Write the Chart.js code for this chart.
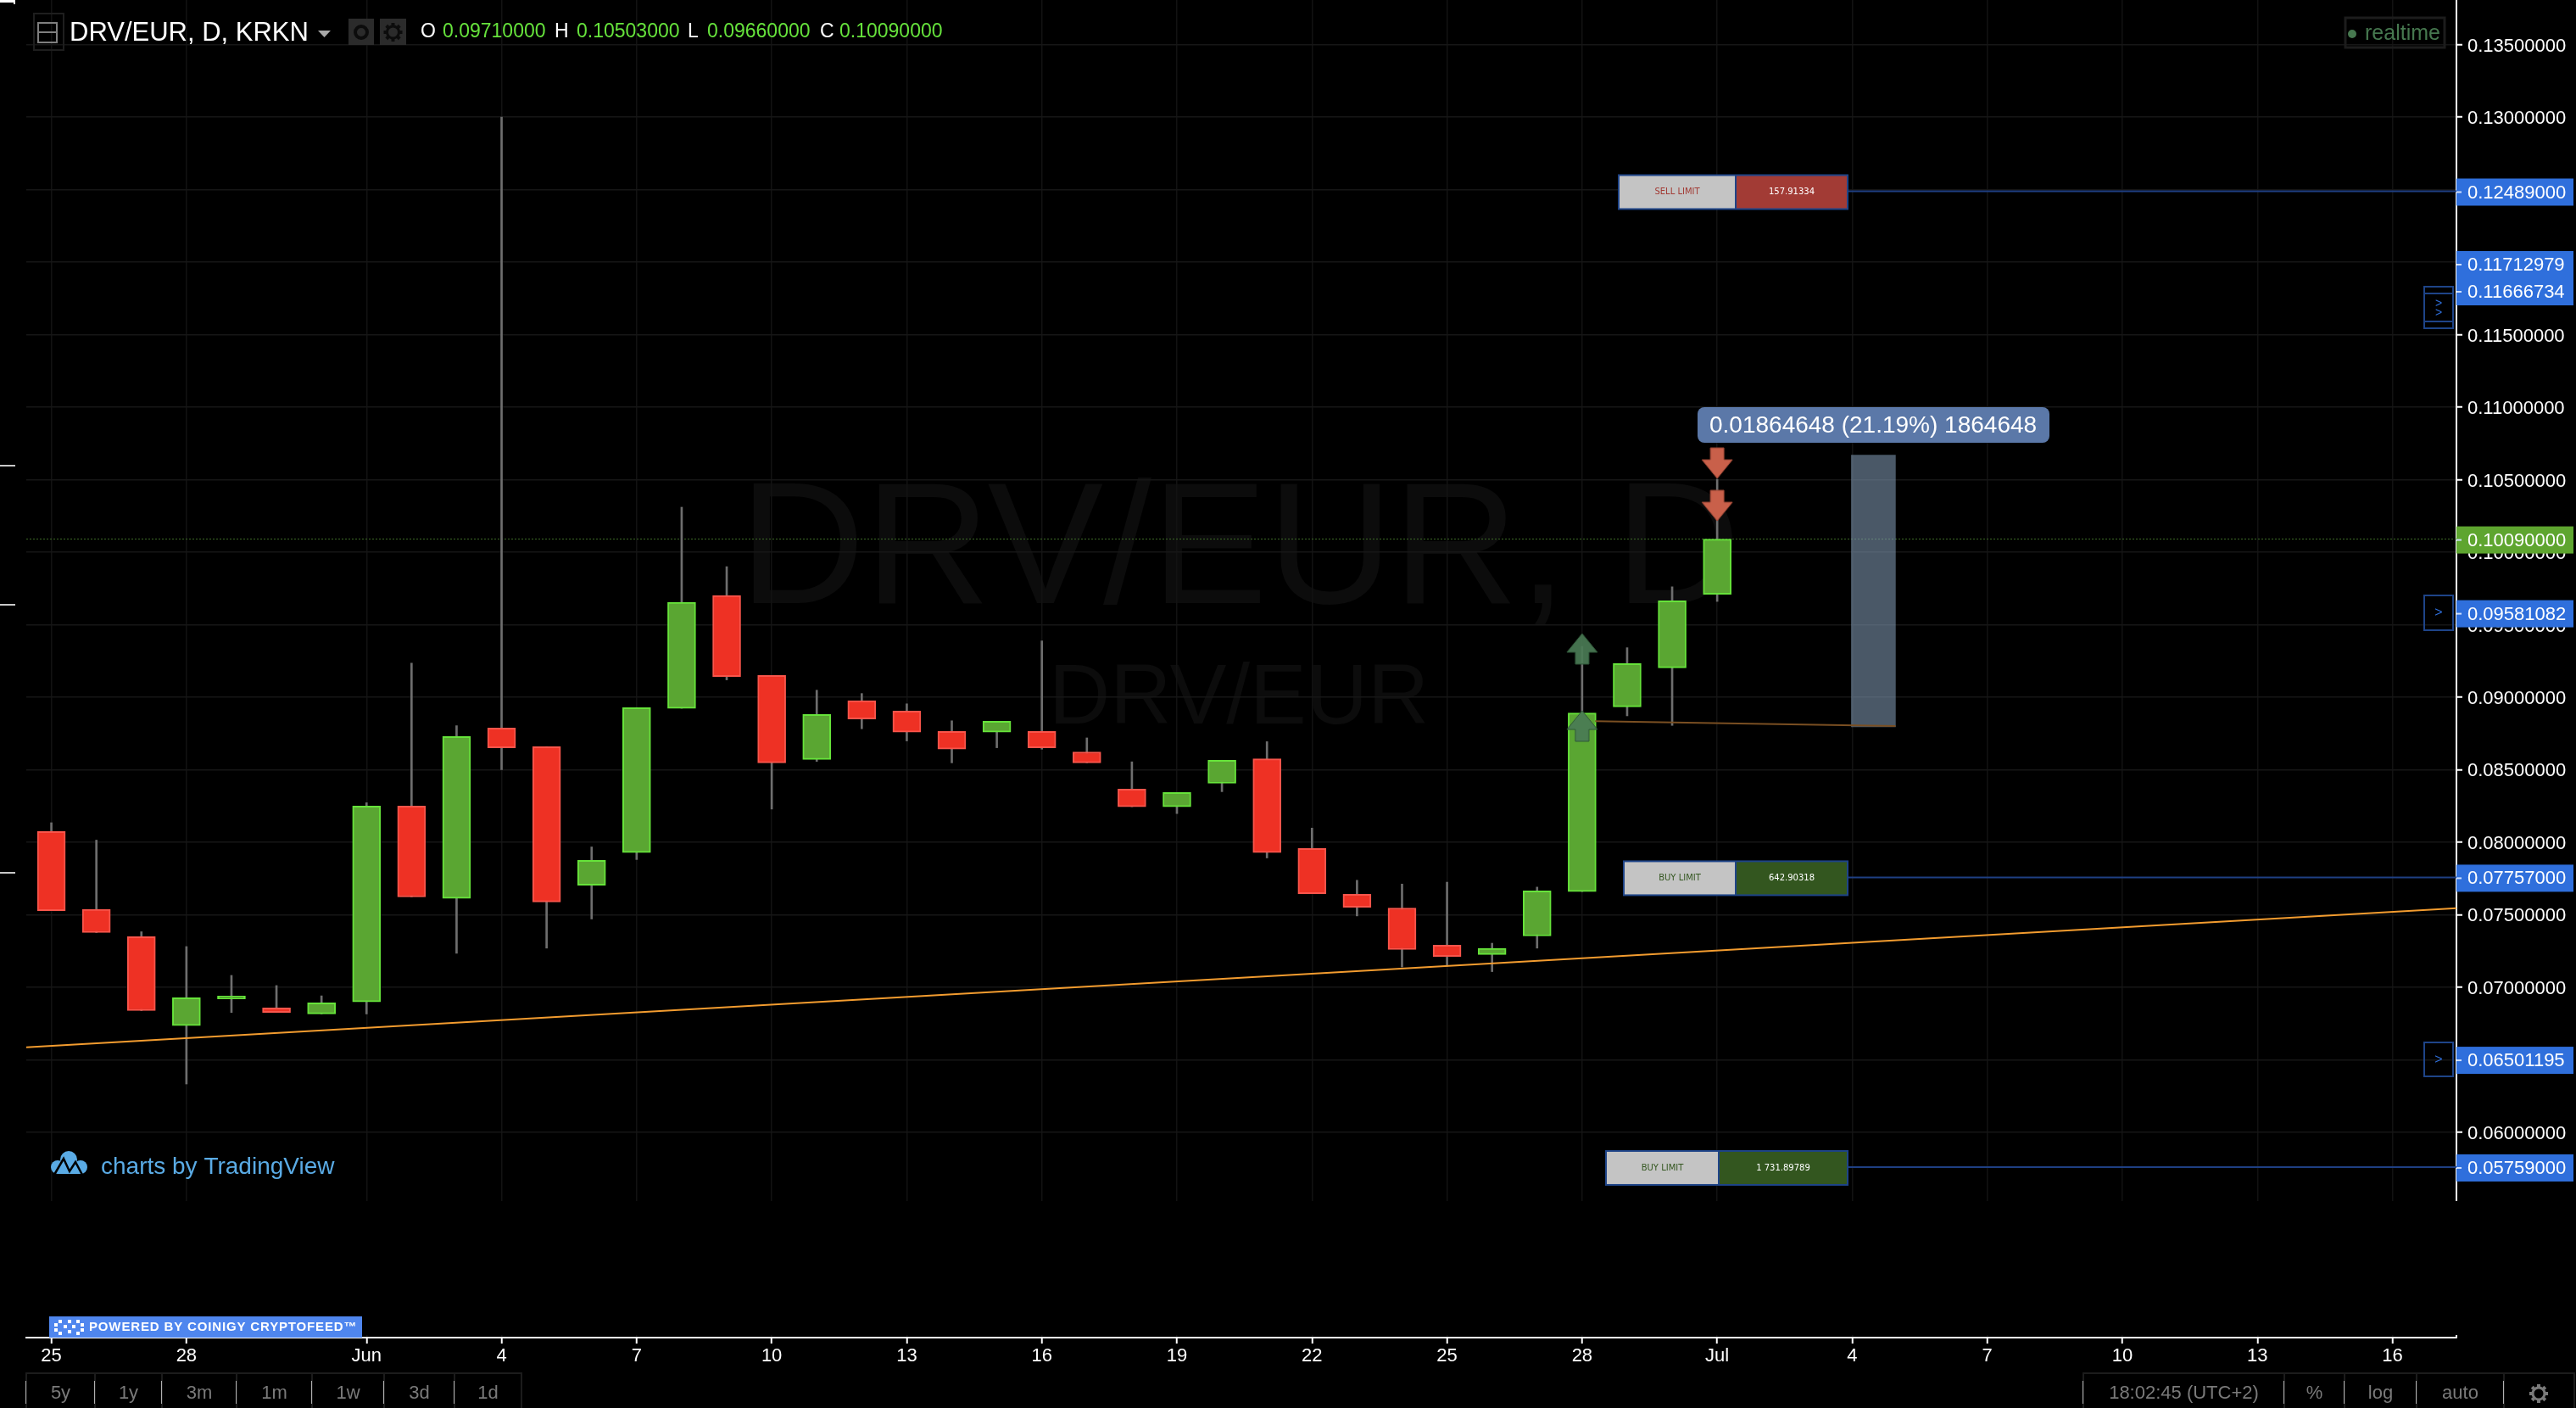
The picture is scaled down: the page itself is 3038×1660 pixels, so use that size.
<!DOCTYPE html>
<html>
<head>
<meta charset="utf-8">
<title>DRV/EUR, D, KRKN</title>
<style>
  html, body { margin: 0; padding: 0; background: #000; }
  canvas { display: block; }
</style>
<script src="https://cdn.jsdelivr.net/npm/chart.js@4"></script>
</head>
<body>
<canvas id="priceChart" width="3038" height="1660"></canvas>
<script>
// daily candles, May 25 to Jul 1
const opens = [0.08074, 0.07536, 0.07348, 0.06734, 0.06919, 0.06857, 0.06815, 0.06898, 0.08249, 0.07612,
  0.08787, 0.08659, 0.07703, 0.07928, 0.08923, 0.09701, 0.0915, 0.0857, 0.08975, 0.08904,
  0.08763, 0.08758, 0.08763, 0.08622, 0.08366, 0.08244, 0.08406, 0.08575, 0.07956, 0.0764,
  0.07546, 0.0729, 0.07225, 0.07353, 0.07659, 0.08933, 0.09202, 0.0971];
const highs = [0.08134, 0.08014, 0.07382, 0.0728, 0.07081, 0.07011, 0.0694, 0.08272, 0.09234, 0.08803,
  0.13, 0.08659, 0.07967, 0.08928, 0.1031, 0.099, 0.0915, 0.09048, 0.09025, 0.08954,
  0.08837, 0.08834, 0.09388, 0.08719, 0.08554, 0.08343, 0.08565, 0.08693, 0.08097, 0.07737,
  0.07711, 0.07724, 0.07303, 0.0769, 0.0935, 0.09341, 0.09761, 0.10503];
const lows = [0.07528, 0.07376, 0.06838, 0.06332, 0.06825, 0.06825, 0.06815, 0.06815, 0.07622, 0.07233,
  0.085, 0.07269, 0.0747, 0.0788, 0.08923, 0.09119, 0.08228, 0.08557, 0.08782, 0.08698,
  0.08547, 0.08651, 0.08641, 0.08547, 0.08244, 0.08197, 0.08348, 0.07891, 0.07645, 0.07491,
  0.07139, 0.07144, 0.07107, 0.07269, 0.07659, 0.08871, 0.08805, 0.0966];
const closes = [0.07528, 0.07376, 0.06838, 0.06927, 0.06938, 0.06825, 0.06891, 0.08249, 0.07622, 0.08729,
  0.08651, 0.07588, 0.07875, 0.08928, 0.09654, 0.09142, 0.08547, 0.08881, 0.0885, 0.08758,
  0.08641, 0.08834, 0.08651, 0.08547, 0.08244, 0.08343, 0.08565, 0.07928, 0.07645, 0.07551,
  0.07259, 0.07212, 0.07267, 0.07664, 0.08891, 0.09231, 0.09665, 0.1009];

// axes
const dayTicks = [0, 3, 7, 10, 13, 16, 19, 22, 25, 28, 31, 34, 37, 40, 43, 46, 49, 52];
const dayLabels = ['25', '28', 'Jun', '4', '7', '10', '13', '16', '19', '22', '25', '28', 'Jul', '4', '7', '10', '13', '16'];
const priceTicks = [0.06, 0.065, 0.07, 0.075, 0.08, 0.085, 0.09, 0.095, 0.1, 0.105, 0.11, 0.115, 0.12, 0.125, 0.13, 0.135];
const dayMin = -0.557;
const dayMax = 53.42;
const priceMin = 0.04583;
const priceMax = 0.13808;

// drawings on top of the candles
const trendDays = [dayMin, dayMax];
const trendPrices = [0.06585, 0.07544];
const orderPrices = [0.12489, 0.07757, 0.05759];
const orderStartDay = 39.9;
const orderSides = ['SELL LIMIT', 'BUY LIMIT', 'BUY LIMIT'];
const orderAmounts = ['157.91334', '642.90318', '1 731.89789'];
const lastPrice = 0.1009;
const measureDays = [34.29, 40.96];
const measurePrices = [0.08834, 0.088];
const measureBoxDay = 40.47;
const measureBox = [0.08795, 0.10669];
const sellArrowDays = [37, 37];
const sellArrowPrices = [0.10614, 0.10321];
const buyArrowDays = [34, 34];
const buyArrowPrices = [0.09333, 0.08801];
const tagPrices = [0.12489, 0.11712979, 0.11666734, 0.1009, 0.09581082, 0.07757, 0.06501195, 0.05759];
const rangeButtons = ['5y', '1y', '3m', '1m', '1w', '3d', '1d'];

const FONT = '"Liberation Sans", Arial, sans-serif';

function makeArrow(color, edge, pointsUp) {
    const c = document.createElement('canvas');
    c.width = 38;
    c.height = 38;
    const g = c.getContext('2d');
    if (pointsUp) {
        g.translate(0, 38);
        g.scale(1, -1);
    }
    g.beginPath();
    g.moveTo(11, 1);
    g.lineTo(27, 1);
    g.lineTo(27, 15);
    g.lineTo(37, 15);
    g.lineTo(19, 37);
    g.lineTo(1, 15);
    g.lineTo(11, 15);
    g.closePath();
    g.fillStyle = color;
    g.fill();
    g.strokeStyle = edge;
    g.lineWidth = 1;
    g.stroke();
    return c;
}

function text(ctx, str, x, y, font, color, align) {
    ctx.font = font;
    ctx.fillStyle = color;
    ctx.textAlign = align || 'left';
    ctx.textBaseline = 'middle';
    ctx.fillText(str, x, y);
}

function drawWatermark(ctx) {
    ctx.save();
    ctx.font = '205px ' + FONT;
    ctx.fillStyle = '#0c0c0c';
    ctx.textAlign = 'left';
    ctx.textBaseline = 'alphabetic';
    ctx.fillText('DRV/EUR, D', 872, 711);
    ctx.font = '100px ' + FONT;
    ctx.fillText('DRV/EUR', 1237, 853);
    ctx.restore();
}

function drawOrderBox(ctx, y, left, side, amount, fill, sideColor) {
    const mid = 2047 - (left < 1900 ? 20 : 0);
    const right = 2179;
    const top = y - 19;
    ctx.fillStyle = '#c4c4c4';
    ctx.fillRect(left, top, mid - left, 40);
    ctx.fillStyle = fill;
    ctx.fillRect(mid, top, right - mid, 40);
    ctx.strokeStyle = '#1e4488';
    ctx.lineWidth = 2;
    ctx.strokeRect(left, top, right - left, 40);
    ctx.beginPath();
    ctx.moveTo(mid, top);
    ctx.lineTo(mid, top + 40);
    ctx.stroke();
    text(ctx, side, (left + mid) / 2, y + 1, '10px "DejaVu Sans"', sideColor, 'center');
    text(ctx, amount, (mid + right) / 2, y + 1, '10px "DejaVu Sans"', '#ffffff', 'center');
}

function drawTag(ctx, y, str, color) {
    ctx.fillStyle = color;
    ctx.fillRect(2897, y - 16, 138, 32);
    ctx.fillStyle = '#cfe0ff';
    ctx.fillRect(2897, y - 1, 6, 2);
    text(ctx, str, 2910, y + 1, '22px ' + FONT, '#ffffff');
}

function drawSideBox(ctx, top, height) {
    ctx.strokeStyle = '#1e4488';
    ctx.lineWidth = 2;
    ctx.strokeRect(2859, top, 34, height);
}

function drawHeader(ctx) {
    ctx.fillStyle = '#ffffff';
    ctx.fillRect(0, 0, 18, 3);
    ctx.fillRect(16, 0, 2, 5);
    ctx.fillStyle = '#c8c8c8';
    ctx.fillRect(0, 548, 18, 2);
    ctx.fillRect(0, 712, 18, 2);
    ctx.fillRect(0, 1028, 18, 2);

    ctx.strokeStyle = '#1e1e1e';
    ctx.lineWidth = 2;
    ctx.strokeRect(40, 16, 35, 43);
    ctx.strokeStyle = '#7f7f7f';
    ctx.strokeRect(45, 27, 22, 23);
    ctx.beginPath();
    ctx.moveTo(45, 38);
    ctx.lineTo(67, 38);
    ctx.stroke();

    text(ctx, 'DRV/EUR, D, KRKN', 82, 39, '31px ' + FONT, '#ffffff');
    ctx.fillStyle = '#a8a8a8';
    ctx.beginPath();
    ctx.moveTo(375, 36);
    ctx.lineTo(390, 36);
    ctx.lineTo(382.5, 44);
    ctx.closePath();
    ctx.fill();

    ctx.fillStyle = '#2b2b2b';
    ctx.fillRect(411, 22, 30, 31);
    ctx.fillRect(448, 22, 31, 31);
    ctx.strokeStyle = '#0c0c0c';
    ctx.lineWidth = 4;
    ctx.beginPath();
    ctx.arc(426, 38, 7, 0, Math.PI * 2);
    ctx.stroke();
    drawGear(ctx, 463.5, 38, '#0c0c0c');

    const ohlc = [['O', 496, '0.09710000', 522], ['H', 654, '0.10503000', 680], ['L', 811, '0.09660000', 834], ['C', 967, '0.10090000', 990]];
    ohlc.forEach(function(item) {
        text(ctx, item[0], item[1], 38, '23px ' + FONT, '#ffffff');
        text(ctx, item[2], item[3], 38, '23px ' + FONT, '#66e33c');
    });

    ctx.strokeStyle = '#1c1c1c';
    ctx.lineWidth = 3;
    ctx.strokeRect(2766, 21, 117, 35);
    ctx.fillStyle = '#46784f';
    ctx.beginPath();
    ctx.arc(2774, 40, 5, 0, Math.PI * 2);
    ctx.fill();
    text(ctx, 'realtime', 2789, 40, '25px ' + FONT, '#46784f');
}

function drawGear(ctx, x, y, color) {
    ctx.strokeStyle = color;
    ctx.lineWidth = 3;
    ctx.beginPath();
    ctx.arc(x, y, 7, 0, Math.PI * 2);
    ctx.stroke();
    ctx.lineWidth = 4;
    for (let i = 0; i < 8; i++) {
        const a = i * Math.PI / 4;
        ctx.beginPath();
        ctx.moveTo(x + Math.cos(a) * 7, y + Math.sin(a) * 7);
        ctx.lineTo(x + Math.cos(a) * 11, y + Math.sin(a) * 11);
        ctx.stroke();
    }
}

function drawLogo(ctx) {
    ctx.fillStyle = '#5aabe5';
    [[81, 1367, 10], [68, 1376, 8], [95, 1376, 8]].forEach(function(c) {
        ctx.beginPath();
        ctx.arc(c[0], c[1], c[2], 0, Math.PI * 2);
        ctx.fill();
    });
    ctx.fillRect(68, 1370, 27, 14);
    ctx.strokeStyle = '#000000';
    ctx.lineWidth = 2.5;
    ctx.beginPath();
    ctx.moveTo(64, 1385);
    ctx.lineTo(75, 1366);
    ctx.lineTo(82, 1381);
    ctx.lineTo(89, 1370);
    ctx.lineTo(97, 1385);
    ctx.stroke();
    text(ctx, 'charts by TradingView', 119, 1376, '28px ' + FONT, '#5aabe5');

    ctx.fillStyle = '#4f86ee';
    ctx.fillRect(58, 1552, 369, 25);
    ctx.fillStyle = '#ffffff';
    const dots = [[64, 1560], [64, 1566], [69, 1556], [69, 1570], [75, 1562], [80, 1556], [80, 1568], [85, 1562], [90, 1556], [90, 1570], [95, 1560], [95, 1566]];
    dots.forEach(function(d) {
        ctx.fillRect(d[0], d[1], 4, 4);
    });
    ctx.letterSpacing = '0.85px';
    text(ctx, 'POWERED BY COINIGY CRYPTOFEED™', 105, 1565, 'bold 15px ' + FONT, '#ffffff');
    ctx.letterSpacing = '0px';
}

function drawButtons(ctx) {
    const leftEdges = [31, 112, 191, 279, 368, 453, 536, 615];
    const rightEdges = [2457, 2694, 2765, 2850, 2953, 3036];
    const rightLabels = ['18:02:45 (UTC+2)', '%', 'log', 'auto'];
    ctx.fillStyle = '#1c1c1c';
    ctx.fillRect(31, 1618, 584, 2);
    ctx.fillRect(2457, 1618, 579, 2);
    leftEdges.concat(rightEdges).forEach(function(x) {
        ctx.fillStyle = '#1c1c1c';
        ctx.fillRect(x - 1, 1618, 2, 42);
        if (x !== 615 && x !== 3036) {
            ctx.fillStyle = '#b0b0b0';
            ctx.fillRect(x - 1, 1628, 1, 27);
        }
    });
    rangeButtons.forEach(function(label, i) {
        text(ctx, label, (leftEdges[i] + leftEdges[i + 1]) / 2, 1643, '22px ' + FONT, '#7a7a7a', 'center');
    });
    rightLabels.forEach(function(label, i) {
        text(ctx, label, (rightEdges[i] + rightEdges[i + 1]) / 2, 1643, '22px ' + FONT, '#7a7a7a', 'center');
    });
    drawGear(ctx, 2994, 1643, '#7a7a7a');
}

// volume pane below the price pane stays empty, and the page furniture goes round the chart
const furniture = {
    id: 'furniture',
    beforeDraw(chart) {
        drawWatermark(chart.ctx);
    },
    beforeDatasetsDraw(chart) {
        const area = chart.chartArea;
        chart.ctx.fillStyle = '#000000';
        chart.ctx.fillRect(area.left, 1416, area.right - area.left + 3, 158);
    },
    afterDraw(chart) {
        const ctx = chart.ctx;
        const y = chart.scales.y;
        ctx.save();
        drawHeader(ctx);
        drawLogo(ctx);
        drawButtons(ctx);

        const boxLefts = [1909, 1915, 1894];
        const fills = ['#a23b35', '#33561f', '#33561f'];
        const sideColors = ['#a23b35', '#33561f', '#33561f'];
        orderPrices.forEach(function(p, i) {
            drawOrderBox(ctx, y.getPixelForValue(p), boxLefts[i], orderSides[i], orderAmounts[i], fills[i], sideColors[i]);
        });

        // measure label
        ctx.fillStyle = '#5b78a8';
        ctx.beginPath();
        ctx.roundRect(2002, 480, 415, 42, 8);
        ctx.fill();
        text(ctx, '0.01864648 (21.19%) 1864648', 2016, 502, '28px ' + FONT, '#ffffff');

        // the two close tags are pushed apart and joined on the axis
        const pushedTags = { 0.11712979: 312, 0.11666734: 344 };
        ctx.fillStyle = '#2f6fdc';
        ctx.fillRect(2897, 296, 138, 63);
        tagPrices.forEach(function(p) {
            const tagY = pushedTags[p] || y.getPixelForValue(p) + 1;
            drawTag(ctx, tagY, p.toFixed(8), p === lastPrice ? '#5ea52f' : '#2f6fdc');
        });

        drawSideBox(ctx, 338, 49);
        ctx.strokeStyle = '#1e4488';
        ctx.beginPath();
        ctx.moveTo(2859, 346);
        ctx.lineTo(2893, 346);
        ctx.moveTo(2859, 379);
        ctx.lineTo(2893, 379);
        ctx.stroke();
        text(ctx, '>', 2876, 358, '14px ' + FONT, '#2f6fdc', 'center');
        text(ctx, '>', 2876, 369, '14px ' + FONT, '#2f6fdc', 'center');
        drawSideBox(ctx, 702, 41);
        text(ctx, '>', 2876, 723, '16px ' + FONT, '#2f6fdc', 'center');
        drawSideBox(ctx, 1229, 40);
        text(ctx, '>', 2876, 1250, '16px ' + FONT, '#2f6fdc', 'center');
        ctx.restore();
    }
};

document.addEventListener("DOMContentLoaded", function() {
    const ctx = document.getElementById('priceChart').getContext('2d');
    const days = opens.map(function(o, i) { return i; });
    const pair = function(xs, ys) { return xs.map(function(x, i) { return { x: x, y: ys[i] }; }); };
    const isUp = function(i) { return closes[i] >= opens[i]; };

    new Chart(ctx, {
        type: 'bar',
        data: {
            datasets: [
                {
                    label: 'Wicks',
                    data: days.map(function(i) { return { x: i, y: [lows[i], highs[i]] }; }),
                    backgroundColor: '#6e6e6e',
                    barThickness: 2,
                    grouped: false,
                    order: 6
                },
                {
                    label: 'Bodies',
                    data: days.map(function(i) { return { x: i, y: [opens[i], closes[i]] }; }),
                    backgroundColor: days.map(function(i) { return isUp(i) ? '#5aa632' : '#ee3124'; }),
                    borderColor: days.map(function(i) { return isUp(i) ? '#66e33a' : '#f9554b'; }),
                    borderWidth: 2,
                    borderSkipped: false,
                    barThickness: 33,
                    grouped: false,
                    order: 5
                },
                {
                    label: 'Measure',
                    data: [{ x: measureBoxDay, y: measureBox }],
                    backgroundColor: 'rgba(128,152,178,0.58)',
                    barThickness: 52,
                    grouped: false,
                    order: 7
                },
                {
                    type: 'line',
                    label: 'Last price',
                    data: pair([dayMin, dayMax], [lastPrice, lastPrice]),
                    borderColor: '#3f6d28',
                    borderWidth: 1,
                    borderDash: [2, 2],
                    pointRadius: 0,
                    order: 8
                },
                {
                    type: 'line',
                    label: 'Trend',
                    data: pair(trendDays, trendPrices),
                    borderColor: '#f39c2f',
                    borderWidth: 2,
                    pointRadius: 0,
                    order: 4
                },
                {
                    type: 'line',
                    label: 'Measure base',
                    data: pair(measureDays, measurePrices),
                    borderColor: '#7a4f22',
                    borderWidth: 2,
                    pointRadius: 0,
                    order: 4
                },
                {
                    type: 'line',
                    label: 'Sell order',
                    data: pair([orderStartDay, dayMax], [orderPrices[0], orderPrices[0]]),
                    borderColor: '#1e3f82',
                    borderWidth: 2,
                    pointRadius: 0,
                    order: 3
                },
                {
                    type: 'line',
                    label: 'Buy order',
                    data: pair([orderStartDay, dayMax], [orderPrices[1], orderPrices[1]]),
                    borderColor: '#1e3f82',
                    borderWidth: 2,
                    pointRadius: 0,
                    order: 3
                },
                {
                    type: 'line',
                    label: 'Buy order 2',
                    data: pair([orderStartDay, dayMax], [orderPrices[2], orderPrices[2]]),
                    borderColor: '#1e3f82',
                    borderWidth: 2,
                    pointRadius: 0,
                    order: 3
                },
                {
                    type: 'line',
                    label: 'Sells',
                    data: pair(sellArrowDays, sellArrowPrices),
                    showLine: false,
                    pointStyle: makeArrow('#c9604a', '#9c4735', false),
                    order: 1
                },
                {
                    type: 'line',
                    label: 'Buys',
                    data: pair(buyArrowDays, buyArrowPrices),
                    showLine: false,
                    pointStyle: makeArrow('rgba(74,123,85,0.92)', '#2f5638', true),
                    order: 1
                }
            ]
        },
        options: {
            responsive: false,
            animation: false,
            devicePixelRatio: 1,
            layout: { autoPadding: false, padding: { left: 31, right: 0, top: 0, bottom: 0 } },
            plugins: {
                legend: { display: false },
                tooltip: { enabled: false }
            },
            scales: {
                x: {
                    type: 'linear',
                    min: dayMin,
                    max: dayMax,
                    offset: false,
                    afterBuildTicks: function(scale) {
                        scale.ticks = dayTicks.map(function(v) { return { value: v }; });
                    },
                    afterFit: function(scale) {
                        scale.height = 83;
                        scale.paddingLeft = 0;
                        scale.paddingRight = 0;
                    },
                    grid: {
                        offset: false,
                        color: '#121212',
                        lineWidth: 1.5,
                        tickColor: '#ffffff',
                        tickLength: 7,
                        tickWidth: 2
                    },
                    border: { color: '#ffffff', width: 2 },
                    ticks: {
                        autoSkip: false,
                        maxRotation: 0,
                        padding: 2,
                        color: '#ffffff',
                        font: { family: FONT, size: 22 },
                        callback: function(value, index) { return dayLabels[index]; }
                    }
                },
                y: {
                    position: 'right',
                    min: priceMin,
                    max: priceMax,
                    afterBuildTicks: function(scale) {
                        scale.ticks = priceTicks.map(function(v) { return { value: v }; });
                    },
                    afterFit: function(scale) {
                        scale.width = 141;
                        scale.paddingTop = 0;
                        scale.paddingBottom = 0;
                    },
                    grid: {
                        color: '#161616',
                        lineWidth: 1.5,
                        tickColor: '#ffffff',
                        tickLength: 7,
                        tickWidth: 2
                    },
                    border: { color: '#ffffff', width: 2 },
                    ticks: {
                        autoSkip: false,
                        padding: 6,
                        labelOffset: 2,
                        color: '#ffffff',
                        font: { family: FONT, size: 22 },
                        callback: function(value) { return value.toFixed(8); }
                    }
                }
            }
        },
        plugins: [furniture]
    });
});
</script>
</body>
</html>
